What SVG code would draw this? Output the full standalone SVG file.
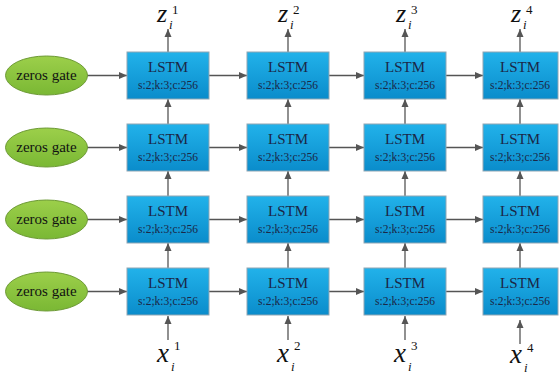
<svg xmlns="http://www.w3.org/2000/svg" width="559" height="375" viewBox="0 0 559 375">
<defs>
<linearGradient id="gBox" x1="0" y1="0" x2="0" y2="1">
<stop offset="0" stop-color="#22b2ea"/>
<stop offset="1" stop-color="#0a8ccb"/>
</linearGradient>
<linearGradient id="gEll" x1="0" y1="0" x2="0" y2="1">
<stop offset="0" stop-color="#9ccf4a"/>
<stop offset="1" stop-color="#7ab834"/>
</linearGradient>
<marker id="arr" markerUnits="userSpaceOnUse" markerWidth="8" markerHeight="8" refX="8" refY="4" orient="auto">
<path d="M0,0.5 L8,4 L0,7.5 z" fill="#555"/>
</marker>
</defs>
<style>
text{font-family:'Liberation Serif','DejaVu Serif',serif}
.box{fill:url(#gBox);stroke:#8fa6b4;stroke-width:1}
.ell{fill:url(#gEll);stroke:#6d9a35;stroke-width:1}
.t1{font-size:15px;fill:#1b2747;text-anchor:middle}
.t2{font-size:11.5px;fill:#1b2747;text-anchor:middle}
.tz{font-size:15px;fill:#111;text-anchor:middle}
.mz{font-style:italic;font-size:26px;fill:#111}
.mx{font-style:italic;font-size:27px;fill:#111}
.sup{font-size:13px;fill:#111}
.sub{font-style:italic;font-size:13px;fill:#111}
.c line{stroke:#555;stroke-width:1.3;fill:none;marker-end:url(#arr)}
</style>
<g class="c" id="connectors">
<line x1="87" y1="75.5" x2="127" y2="75.5"/>
<line x1="87" y1="147.5" x2="127" y2="147.5"/>
<line x1="87" y1="219.5" x2="127" y2="219.5"/>
<line x1="87" y1="291.5" x2="127" y2="291.5"/>
<line x1="209" y1="75.5" x2="247" y2="75.5"/>
<line x1="209" y1="147.5" x2="247" y2="147.5"/>
<line x1="209" y1="219.5" x2="247" y2="219.5"/>
<line x1="209" y1="291.5" x2="247" y2="291.5"/>
<line x1="329" y1="75.5" x2="364" y2="75.5"/>
<line x1="329" y1="147.5" x2="364" y2="147.5"/>
<line x1="329" y1="219.5" x2="364" y2="219.5"/>
<line x1="329" y1="291.5" x2="364" y2="291.5"/>
<line x1="446" y1="75.5" x2="483" y2="75.5"/>
<line x1="446" y1="147.5" x2="483" y2="147.5"/>
<line x1="446" y1="219.5" x2="483" y2="219.5"/>
<line x1="446" y1="291.5" x2="483" y2="291.5"/>
<line x1="168" y1="52" x2="168" y2="29"/>
<line x1="288" y1="52" x2="288" y2="29"/>
<line x1="405" y1="52" x2="405" y2="29"/>
<line x1="520" y1="52" x2="520" y2="29"/>
<line x1="168" y1="124" x2="168" y2="99"/>
<line x1="288" y1="124" x2="288" y2="99"/>
<line x1="405" y1="124" x2="405" y2="99"/>
<line x1="520" y1="124" x2="520" y2="99"/>
<line x1="168" y1="196" x2="168" y2="171"/>
<line x1="288" y1="196" x2="288" y2="171"/>
<line x1="405" y1="196" x2="405" y2="171"/>
<line x1="520" y1="196" x2="520" y2="171"/>
<line x1="168" y1="268" x2="168" y2="243"/>
<line x1="288" y1="268" x2="288" y2="243"/>
<line x1="405" y1="268" x2="405" y2="243"/>
<line x1="520" y1="268" x2="520" y2="243"/>
<line x1="168" y1="340" x2="168" y2="316"/>
<line x1="288" y1="340" x2="288" y2="316"/>
<line x1="405" y1="340" x2="405" y2="316"/>
<line x1="520" y1="344" x2="520" y2="320"/>
</g>
<g id="gate1"><ellipse class="ell" cx="46.5" cy="75.5" rx="41" ry="19.5"/><text class="tz" x="46.5" y="80">zeros gate</text></g>
<g id="gate2"><ellipse class="ell" cx="46.5" cy="147.5" rx="41" ry="19.5"/><text class="tz" x="46.5" y="152">zeros gate</text></g>
<g id="gate3"><ellipse class="ell" cx="46.5" cy="219.5" rx="41" ry="19.5"/><text class="tz" x="46.5" y="224">zeros gate</text></g>
<g id="gate4"><ellipse class="ell" cx="46.5" cy="291.5" rx="41" ry="19.5"/><text class="tz" x="46.5" y="296">zeros gate</text></g>
<g id="lstm11"><rect class="box" x="127" y="52" width="82" height="47"/><text class="t1" x="168" y="72">LSTM</text><text class="t2" x="168" y="89">s:2;k:3;c:256</text></g>
<g id="lstm12"><rect class="box" x="247" y="52" width="82" height="47"/><text class="t1" x="288" y="72">LSTM</text><text class="t2" x="288" y="89">s:2;k:3;c:256</text></g>
<g id="lstm13"><rect class="box" x="364" y="52" width="82" height="47"/><text class="t1" x="405" y="72">LSTM</text><text class="t2" x="405" y="89">s:2;k:3;c:256</text></g>
<g id="lstm14"><rect class="box" x="483" y="52" width="75" height="47"/><text class="t1" x="520" y="72">LSTM</text><text class="t2" x="520" y="89">s:2;k:3;c:256</text></g>
<g id="lstm21"><rect class="box" x="127" y="124" width="82" height="47"/><text class="t1" x="168" y="144">LSTM</text><text class="t2" x="168" y="161">s:2;k:3;c:256</text></g>
<g id="lstm22"><rect class="box" x="247" y="124" width="82" height="47"/><text class="t1" x="288" y="144">LSTM</text><text class="t2" x="288" y="161">s:2;k:3;c:256</text></g>
<g id="lstm23"><rect class="box" x="364" y="124" width="82" height="47"/><text class="t1" x="405" y="144">LSTM</text><text class="t2" x="405" y="161">s:2;k:3;c:256</text></g>
<g id="lstm24"><rect class="box" x="483" y="124" width="75" height="47"/><text class="t1" x="520" y="144">LSTM</text><text class="t2" x="520" y="161">s:2;k:3;c:256</text></g>
<g id="lstm31"><rect class="box" x="127" y="196" width="82" height="47"/><text class="t1" x="168" y="216">LSTM</text><text class="t2" x="168" y="233">s:2;k:3;c:256</text></g>
<g id="lstm32"><rect class="box" x="247" y="196" width="82" height="47"/><text class="t1" x="288" y="216">LSTM</text><text class="t2" x="288" y="233">s:2;k:3;c:256</text></g>
<g id="lstm33"><rect class="box" x="364" y="196" width="82" height="47"/><text class="t1" x="405" y="216">LSTM</text><text class="t2" x="405" y="233">s:2;k:3;c:256</text></g>
<g id="lstm34"><rect class="box" x="483" y="196" width="75" height="47"/><text class="t1" x="520" y="216">LSTM</text><text class="t2" x="520" y="233">s:2;k:3;c:256</text></g>
<g id="lstm41"><rect class="box" x="127" y="268" width="82" height="47"/><text class="t1" x="168" y="288">LSTM</text><text class="t2" x="168" y="305">s:2;k:3;c:256</text></g>
<g id="lstm42"><rect class="box" x="247" y="268" width="82" height="47"/><text class="t1" x="288" y="288">LSTM</text><text class="t2" x="288" y="305">s:2;k:3;c:256</text></g>
<g id="lstm43"><rect class="box" x="364" y="268" width="82" height="47"/><text class="t1" x="405" y="288">LSTM</text><text class="t2" x="405" y="305">s:2;k:3;c:256</text></g>
<g id="lstm44"><rect class="box" x="483" y="268" width="75" height="47"/><text class="t1" x="520" y="288">LSTM</text><text class="t2" x="520" y="305">s:2;k:3;c:256</text></g>
<g id="z1"><text class="mz" x="157" y="22">z</text><text class="sup" x="172" y="14">1</text><text class="sub" x="169" y="29">i</text></g>
<g id="z2"><text class="mz" x="278" y="22">z</text><text class="sup" x="293" y="14">2</text><text class="sub" x="290" y="29">i</text></g>
<g id="z3"><text class="mz" x="396" y="22">z</text><text class="sup" x="411" y="14">3</text><text class="sub" x="408" y="29">i</text></g>
<g id="z4"><text class="mz" x="511" y="22">z</text><text class="sup" x="526" y="14">4</text><text class="sub" x="523" y="29">i</text></g>
<g id="x1"><text class="mx" x="157" y="362">x</text><text class="sup" x="174" y="350">1</text><text class="sub" x="171" y="371">i</text></g>
<g id="x2"><text class="mx" x="277" y="362">x</text><text class="sup" x="294" y="350">2</text><text class="sub" x="291" y="371">i</text></g>
<g id="x3"><text class="mx" x="394" y="362">x</text><text class="sup" x="411" y="350">3</text><text class="sub" x="408" y="371">i</text></g>
<g id="x4"><text class="mx" x="510" y="363">x</text><text class="sup" x="527" y="352">4</text><text class="sub" x="524" y="372">i</text></g>
</svg>
